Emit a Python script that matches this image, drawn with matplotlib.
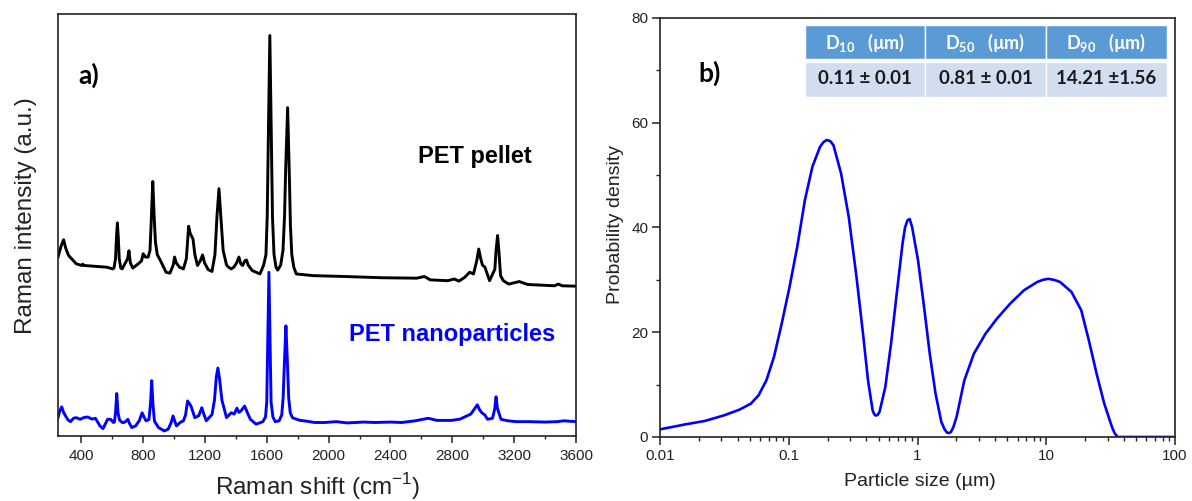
import numpy as np
import matplotlib
matplotlib.use("Agg")
import matplotlib.pyplot as plt
from matplotlib.patches import Rectangle
from matplotlib.ticker import MultipleLocator, LogLocator, NullFormatter, FixedLocator, FixedFormatter

plt.rcParams['font.family'] = ['Liberation Sans', 'DejaVu Sans']
plt.rcParams['mathtext.fontset'] = 'custom'
plt.rcParams['mathtext.rm'] = 'Liberation Sans'
plt.rcParams['mathtext.bf'] = 'Lato:bold'

# ---- panel a) Raman spectra (a.u.) ----
pellet_shift = [250, 270, 286, 300, 318, 368, 405, 410, 420, 566,
                603, 612, 622, 628, 634, 640, 646, 656, 665, 700,
                709, 718, 734, 769, 790, 801, 815, 833, 845, 852,
                863, 872, 880, 892, 912, 949, 974, 995, 1004, 1015,
                1036, 1061, 1080, 1095, 1105, 1123, 1135, 1152, 1170, 1185,
                1198, 1222, 1246, 1265, 1278, 1291, 1303, 1318, 1340, 1353,
                1370, 1387, 1405, 1420, 1432, 1444, 1458, 1469, 1480, 1506,
                1556, 1580, 1595, 1603, 1610, 1620, 1630, 1637, 1647, 1660,
                1671, 1690, 1705, 1715, 1723, 1735, 1746, 1753, 1762, 1775,
                1791, 1902, 2100, 2348, 2570, 2620, 2657, 2769, 2813, 2843,
                2880, 2912, 2937, 2958, 2971, 2984, 2995, 3011, 3041, 3075,
                3083, 3093, 3102, 3112, 3130, 3165, 3233, 3288, 3461, 3486,
                3510, 3600]
pellet_int = [42.4, 45.0, 46.5, 44.5, 42.8, 40.8, 40.4, 40.7, 40.4, 40.0,
              39.6, 39.8, 42.0, 47.0, 50.5, 47.0, 42.0, 39.8, 39.6, 42.0,
              43.9, 41.0, 39.8, 40.8, 41.5, 43.2, 42.4, 42.4, 44.0, 50.0,
              60.3, 52.0, 46.0, 43.0, 41.6, 38.8, 38.6, 40.5, 42.4, 41.0,
              40.0, 39.6, 42.0, 49.7, 48.0, 46.7, 43.0, 40.4, 41.5, 42.9,
              41.0, 39.4, 39.0, 43.0, 52.0, 58.6, 52.0, 44.0, 40.5, 40.0,
              39.6, 40.0, 41.0, 42.4, 40.8, 40.4, 41.5, 41.7, 40.5, 39.2,
              38.4, 40.5, 43.0, 52.0, 70.0, 94.9, 70.0, 52.0, 43.0, 40.0,
              39.3, 40.5, 44.0, 52.0, 64.0, 77.8, 62.0, 50.0, 43.0, 40.0,
              38.4, 38.0, 37.8, 37.5, 37.4, 37.8, 37.0, 36.8, 37.2, 36.7,
              37.6, 38.8, 38.4, 41.5, 44.3, 42.0, 40.5, 40.0, 36.8, 39.5,
              44.0, 47.5, 43.5, 38.0, 36.8, 36.0, 36.6, 35.9, 35.6, 36.0,
              35.6, 35.5]

nano_shift = [250, 262, 274, 286, 299, 315, 331, 350, 368, 393,
              420, 442, 470, 492, 521, 541, 571, 591, 608, 615,
              622, 630, 638, 648, 665, 677, 690, 702, 712, 727,
              752, 775, 794, 805, 819, 838, 848, 856, 864, 874,
              900, 937, 962, 980, 994, 1005, 1016, 1040, 1061, 1075,
              1088, 1110, 1135, 1160, 1180, 1195, 1209, 1246, 1262, 1274,
              1284, 1295, 1310, 1340, 1370, 1390, 1407, 1420, 1432, 1445,
              1457, 1475, 1494, 1531, 1575, 1592, 1600, 1607, 1614, 1621,
              1628, 1640, 1655, 1680, 1697, 1706, 1715, 1724, 1733, 1742,
              1752, 1766, 1790, 1816, 1860, 1910, 1977, 2050, 2120, 2224,
              2300, 2400, 2472, 2560, 2645, 2700, 2795, 2850, 2893, 2920,
              2945, 2962, 2975, 2991, 3010, 3028, 3060, 3075, 3083, 3092,
              3115, 3160, 3214, 3300, 3400, 3480, 3520, 3600]
nano_int = [4.35, 6.0, 6.9, 5.6, 4.75, 3.8, 3.4, 4.2, 4.35, 3.96,
            4.4, 4.5, 4.0, 4.2, 2.4, 1.75, 3.96, 3.96, 3.2, 3.3,
            5.5, 10.06, 5.5, 3.8, 3.2, 3.2, 3.5, 3.96, 3.0, 2.0,
            2.4, 3.6, 5.5, 4.6, 3.6, 3.9, 7.5, 13.1, 7.5, 3.5,
            2.0, 1.2, 1.6, 3.0, 4.75, 3.5, 2.4, 3.2, 3.6, 5.0,
            8.3, 7.1, 4.35, 4.8, 6.7, 5.0, 3.6, 5.1, 8.5, 14.0,
            16.1, 13.5, 8.5, 4.35, 5.5, 5.2, 6.6, 5.6, 5.9, 6.5,
            7.1, 5.5, 3.96, 2.8, 3.4, 4.5, 8.0, 23.5, 38.8, 23.5,
            8.0, 4.5, 3.4, 3.6, 5.0, 9.0, 18.0, 26.1, 18.0, 9.0,
            5.5, 4.35, 4.0, 3.7, 3.5, 3.2, 3.2, 3.4, 3.1, 3.3,
            3.2, 3.3, 3.2, 3.6, 4.2, 3.7, 3.7, 4.0, 4.75, 5.2,
            6.5, 7.4, 6.3, 5.5, 5.0, 3.96, 4.2, 6.5, 9.3, 6.5,
            3.96, 3.6, 3.4, 3.4, 3.3, 3.4, 3.6, 3.4]

# ---- panel b) particle size distribution ----
size_um = [0.01, 0.0158, 0.0223, 0.0315, 0.0414, 0.0508, 0.0583, 0.067, 0.0768, 0.0881,
           0.1013, 0.1164, 0.1334, 0.1526, 0.175, 0.186, 0.197, 0.21, 0.2225, 0.255,
           0.2925, 0.3357, 0.3775, 0.4128, 0.448, 0.46, 0.473, 0.49, 0.507, 0.562,
           0.623, 0.69, 0.765, 0.80, 0.837, 0.87, 0.908, 1.01, 1.125, 1.245,
           1.38, 1.531, 1.62, 1.698, 1.76, 1.817, 1.9, 2.01, 2.31, 2.74,
           3.37, 4.14, 5.26, 6.7, 8.51, 9.4, 10.35, 11.5, 12.8, 15.7,
           18.7, 21.4, 24.6, 28.2, 32.4, 34.0, 35.9, 100]
density = [1.46, 2.42, 3.06, 4.14, 5.22, 6.37, 7.96, 10.8, 15.3, 21.6,
           28.6, 36.3, 45.2, 51.6, 55.4, 56.3, 56.7, 56.5, 55.7, 50.3,
           42.0, 30.6, 19.7, 10.8, 5.1, 4.4, 4.1, 4.2, 4.8, 9.5,
           17.8, 27.4, 36.9, 40.0, 41.4, 41.6, 40.1, 33.7, 24.8, 15.9,
           8.3, 2.9, 1.5, 0.83, 0.75, 0.95, 1.9, 3.8, 10.8, 15.9,
           19.7, 22.6, 25.5, 28.0, 29.6, 30.0, 30.2, 30.0, 29.6, 27.7,
           24.2, 18.5, 12.1, 6.4, 1.9, 0.7, 0.0, 0.0]

col_headers = ['10', '50', '90']
col_values = ['0.11 ± 0.01', '0.81 ± 0.01', '14.21 ±1.56']

W, H = 1192, 501
fig = plt.figure(figsize=(W / 100, H / 100), dpi=100)


def px(x0, y0, x1, y1):
    # pixel box (top-left origin) -> figure fraction rect
    return [x0 / W, 1 - y1 / H, (x1 - x0) / W, (y1 - y0) / H]


# ---------- panel a ----------
ax1 = fig.add_axes(px(58, 14, 576, 436))
ax1.plot(pellet_shift, pellet_int, color='black', lw=2.1)
ax1.plot(nano_shift, nano_int, color='#0000ff', lw=2.1)
ax1.set_xlim(250, 3600)
ax1.set_ylim(0, 100)
ax1.set_yticks([])
ax1.xaxis.set_major_locator(MultipleLocator(400))
ax1.xaxis.set_minor_locator(MultipleLocator(200))
ax1.tick_params(axis='x', which='major', direction='out', length=5, width=1.1,
                labelsize=11, pad=4, colors='#222222')
ax1.tick_params(axis='x', which='minor', direction='out', length=2.5, width=1.0, colors='#222222')
for s in ax1.spines.values():
    s.set_linewidth(1.2)
    s.set_color('#222222')

fig.text(89 / W, 1 - 75 / H, 'a)', fontsize=19, fontweight='bold', family=['Lato', 'DejaVu Sans'],
         ha='center', va='center')
fig.text(418 / W, 1 - 163 / H, 'PET pellet', fontsize=17, fontweight='bold', ha='left', va='baseline')
fig.text(349 / W, 1 - 341 / H, 'PET nanoparticles', fontsize=17, fontweight='bold', color='#0000ff',
         ha='left', va='baseline')
fig.text(26 / W, 1 - 216 / H, 'Raman intensity (a.u.)', fontsize=17.5, rotation=90,
         ha='center', va='center', color='#222222')
fig.text(318 / W, 1 - 487 / H, r'Raman shift (cm$^{-1}$)', fontsize=17.5,
         ha='center', va='center', color='#222222')

# ---------- panel b ----------
ax2 = fig.add_axes(px(660, 18, 1175, 437))
ax2.plot(size_um, density, color='#0000ff', lw=1.9)
ax2.set_xscale('log')
ax2.set_xlim(0.01, 100)
ax2.set_ylim(0, 80)
ax2.xaxis.set_major_locator(FixedLocator([0.01, 0.1, 1, 10, 100]))
ax2.xaxis.set_major_formatter(FixedFormatter(['0.01', '0.1', '1', '10', '100']))
ax2.xaxis.set_minor_locator(LogLocator(base=10, subs=np.arange(2, 10), numticks=20))
ax2.xaxis.set_minor_formatter(NullFormatter())
ax2.yaxis.set_major_locator(MultipleLocator(20))
ax2.yaxis.set_minor_locator(MultipleLocator(10))
ax2.tick_params(which='major', direction='out', length=5.5, width=1.1, labelsize=11,
                pad=3, colors='#222222')
ax2.tick_params(which='minor', direction='out', length=3, width=1.0, colors='#222222')
for s in ax2.spines.values():
    s.set_linewidth(1.2)
    s.set_color('#222222')

fig.text(615 / W, 1 - 224 / H, 'Probability density', fontsize=14, rotation=90,
         ha='center', va='center', color='#222222')
fig.text(920 / W, 1 - 482 / H, 'Particle size (µm)', fontsize=14, ha='center', va='center',
         color='#222222')
fig.text(710 / W, 1 - 73 / H, 'b)', fontsize=19, fontweight='bold', family=['Lato', 'DejaVu Sans'],
         ha='center', va='center')

# ---------- table ----------
edges = [805, 925, 1046, 1167]
for i in range(3):
    x0, x1 = edges[i], edges[i + 1]
    fig.add_artist(Rectangle((x0 / W, 1 - 59 / H), (x1 - x0) / W, 34 / H, transform=fig.transFigure,
                             facecolor='#5b9bd5', edgecolor='white', lw=1.0))
    fig.add_artist(Rectangle((x0 / W, 1 - 97 / H), (x1 - x0) / W, 35 / H, transform=fig.transFigure,
                             facecolor='#d2ddef', edgecolor='white', lw=1.0))
    xc = (x0 + x1) / 2 / W
    fig.text(xc, 1 - 43 / H, r'D$_{\mathbf{%s}}$   (µm)' % col_headers[i], fontsize=13,
             fontweight='bold', color='white', family=['Lato', 'DejaVu Sans'],
             ha='center', va='center')
    fig.text(xc, 1 - 79 / H, col_values[i], fontsize=13.5, fontweight='bold', color='#1a1a1a',
             family=['Lato', 'DejaVu Sans'], ha='center', va='center')

fig.savefig('out.png', dpi=100)
